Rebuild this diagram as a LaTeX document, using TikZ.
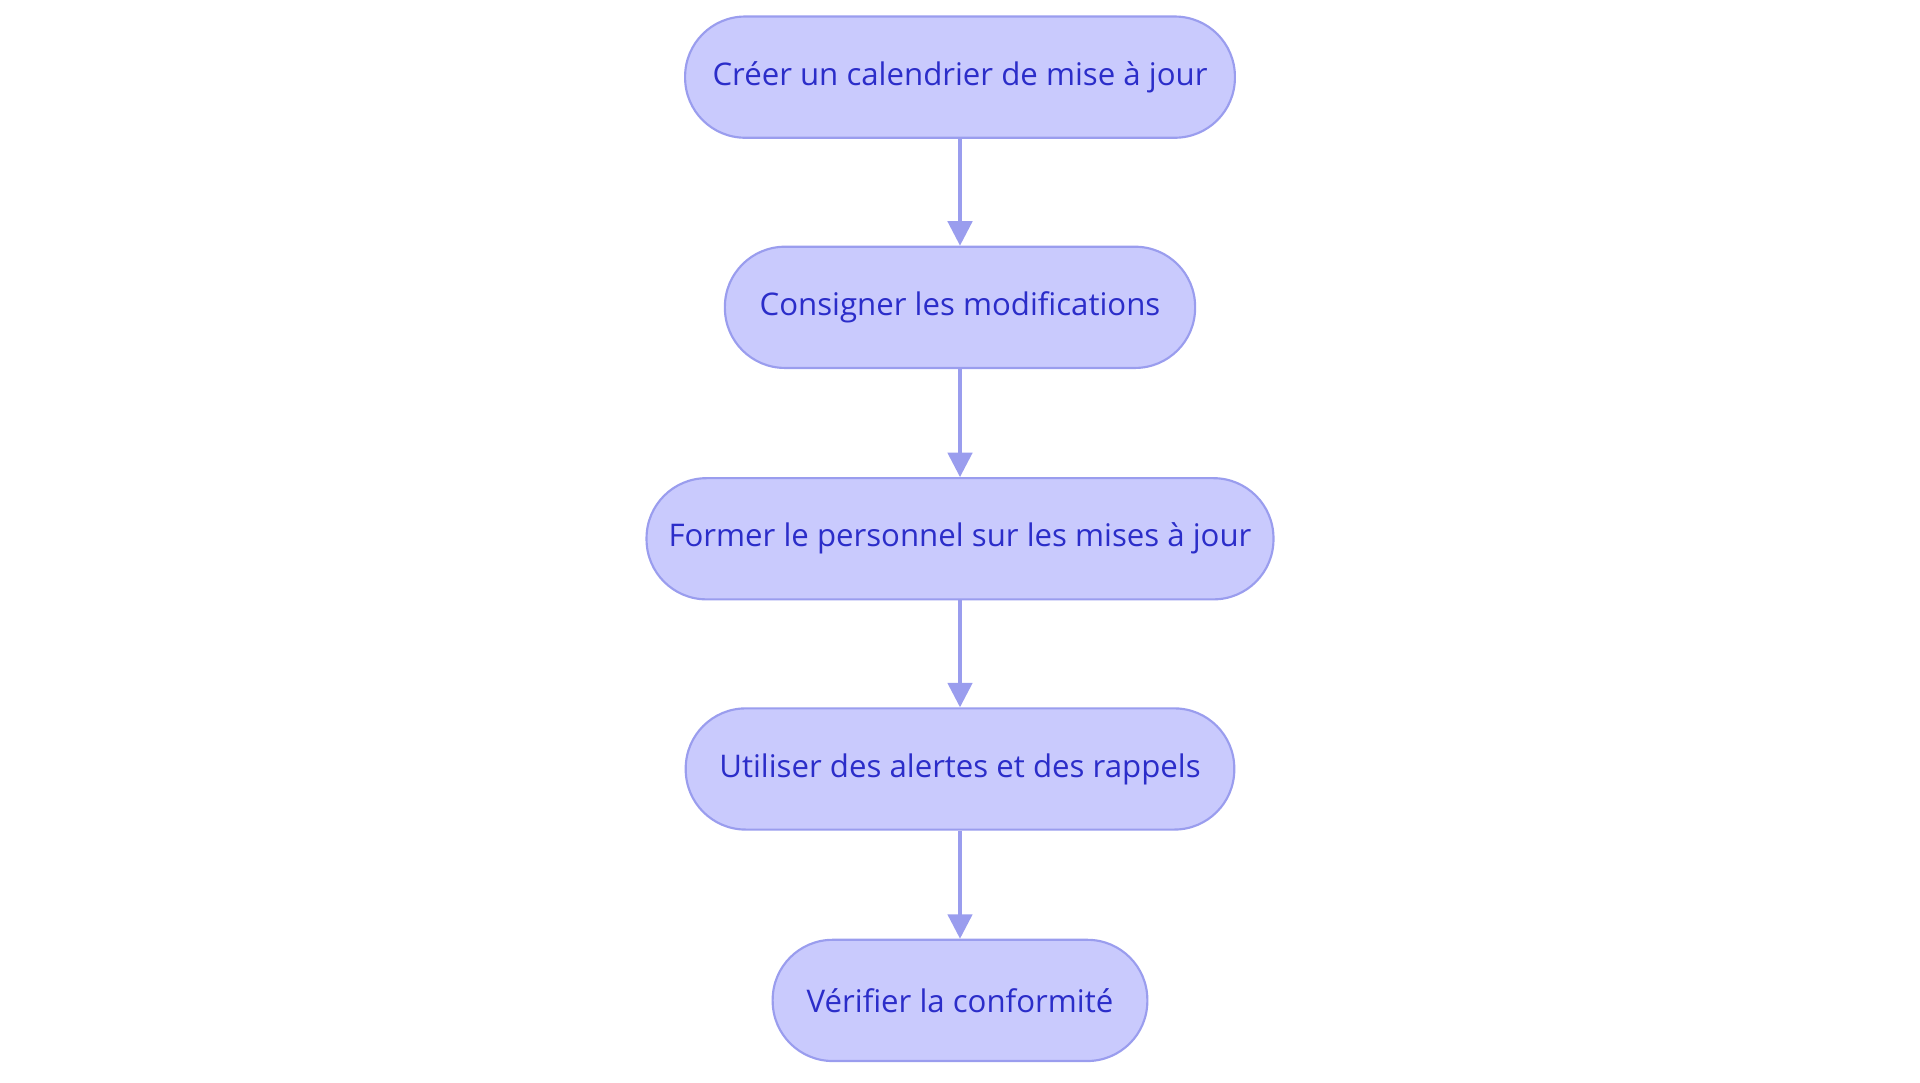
\documentclass[tikz,border=0pt]{standalone}
\usepackage{fontspec}
\setmainfont{Open Sans}
\usetikzlibrary{arrows.meta}
\definecolor{nfill}{HTML}{C9CAFD}
\definecolor{nline}{HTML}{9A9DEE}
\definecolor{ntext}{HTML}{2B2DC9}
\begin{document}
\begin{tikzpicture}[x=0.02cm,y=-0.02cm,
 box/.style={draw=nline,line width=1pt,fill=nfill,rounded corners=0.98cm,minimum height=1.98cm,text=ntext,font=\fontsize{14.5}{17}\selectfont,inner sep=0pt},
 arr/.style={draw=nline,line width=1.6pt,-{Triangle[length=0.4cm,width=0.4cm]}}]
\useasboundingbox (0,0) rectangle (1568,884);
\node[box,minimum width=449*0.02cm] (a) at (784,63) {Créer un calendrier de mise à jour};
\node[box,minimum width=384*0.02cm] (b) at (784,251) {Consigner les modifications};
\node[box,minimum width=512*0.02cm] (c) at (784,440) {Former le personnel sur les mises à jour};
\node[box,minimum width=448*0.02cm] (d) at (784,628) {Utiliser des alertes et des rappels};
\node[box,minimum width=306*0.02cm] (e) at (784,817) {Vérifier la conformité};
\draw[arr] (a) -- (b);
\draw[arr] (b) -- (c);
\draw[arr] (c) -- (d);
\draw[arr] (d) -- (e);
\end{tikzpicture}
\end{document}
